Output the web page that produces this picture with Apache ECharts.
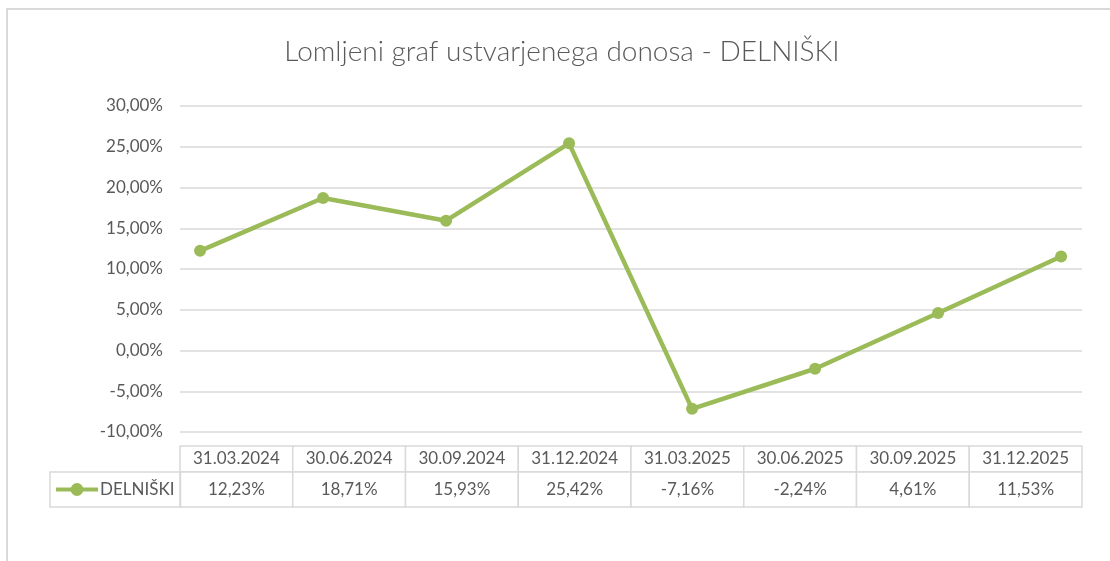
<!DOCTYPE html>
<html><head><meta charset="utf-8">
<script src="https://cdn.jsdelivr.net/npm/echarts@6/dist/echarts.min.js"></script>
<style>html,body{margin:0;padding:0;background:#fff}#c{width:1110px;height:561px}</style>
</head><body><div id="c"></div>
<script>
const categories = ['31.03.2024','30.06.2024','30.09.2024','31.12.2024','31.03.2025','30.06.2025','30.09.2025','31.12.2025'];
const seriesName = 'DELNIŠKI';
const values = [12.23, 18.71, 15.93, 25.42, -7.16, -2.24, 4.61, 11.53];
const yTicks = [-10, -5, 0, 5, 10, 15, 20, 25, 30];

const fmt = v => v.toFixed(2).replace('.', ',') + '%';
const FONT = 'Lato';
const TXT = '#595959';
const GRID = '#d9d9d9';
const GREEN = '#9bbb59';

function cellRender(textOf) {
  return function (params, api) {
    const i = api.value(0);
    const c = api.coord([i, 0]);
    const s = api.size([1, 1]);
    return {
      type: 'rect',
      shape: { x: c[0] - s[0] / 2, y: c[1] - s[1] / 2, width: s[0], height: s[1] },
      style: { fill: '#fff', stroke: GRID, lineWidth: 1.5,
        text: textOf(i), textFill: TXT, fontSize: 17, fontFamily: FONT,
        textPosition: 'inside' }
    };
  };
}

const chart = echarts.init(document.getElementById('c'), null, { renderer: 'canvas' });
chart.setOption({
  backgroundColor: '#fff',
  animation: false,
  graphic: [{
    type: 'rect', shape: { x: 7, y: 9, width: 1200, height: 600 },
    style: { fill: 'none', stroke: GRID, lineWidth: 2 }, silent: true, z: -1
  }],
  title: {
    text: 'Lomljeni graf ustvarjenega donosa - DELNIŠKI',
    left: 557, top: 33, textAlign: 'center',
    textStyle: { fontFamily: FONT, fontWeight: 300, fontSize: 28, color: TXT }
  },
  legend: {
    data: [seriesName], left: 50, top: 472,
    padding: [9, 6, 9, 4], itemWidth: 42, itemHeight: 16, itemGap: 0,
    borderColor: GRID, borderWidth: 1.5,
    lineStyle: { width: 4 },
    textStyle: { fontFamily: FONT, fontSize: 17, color: TXT, padding: [0, 0, 0, -3] }
  },
  grid: [
    { left: 180, right: 28, top: 106, bottom: 129 },
    { left: 180, right: 28, top: 446, height: 26 },
    { left: 180, right: 28, top: 472, height: 35 }
  ],
  xAxis: [
    { type: 'value', gridIndex: 0, min: -0.163, max: 7.17, show: false },
    { type: 'category', gridIndex: 1, data: categories, show: false },
    { type: 'category', gridIndex: 2, data: categories, show: false }
  ],
  yAxis: [
    { type: 'value', gridIndex: 0, min: yTicks[0], max: yTicks[yTicks.length - 1], interval: 5,
      axisLine: { show: false }, axisTick: { show: false },
      axisLabel: { formatter: v => fmt(v), fontFamily: FONT, fontSize: 17, color: TXT, margin: 17 },
      splitLine: { lineStyle: { color: GRID, width: 1.5 } } },
    { type: 'category', gridIndex: 1, data: ['h'], show: false },
    { type: 'category', gridIndex: 2, data: ['v'], show: false }
  ],
  series: [
    { name: seriesName, type: 'line', xAxisIndex: 0, yAxisIndex: 0,
      data: values.map((v, i) => [i, v]),
      symbol: 'circle', symbolSize: 12,
      itemStyle: { color: GREEN }, lineStyle: { color: GREEN, width: 4.5 } },
    { type: 'custom', xAxisIndex: 1, yAxisIndex: 1, silent: true,
      data: categories.map((c, i) => [i, 0]),
      renderItem: cellRender(i => categories[i]) },
    { type: 'custom', xAxisIndex: 2, yAxisIndex: 2, silent: true,
      data: values.map((v, i) => [i, 0]),
      renderItem: cellRender(i => fmt(values[i])) }
  ]
});
</script></body></html>
